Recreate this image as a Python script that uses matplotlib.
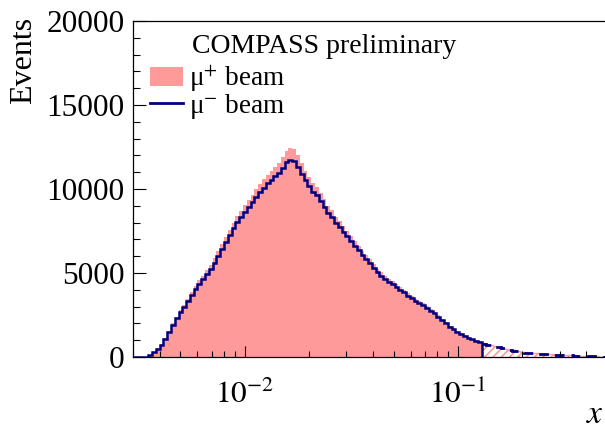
import numpy as np
import matplotlib
matplotlib.use('Agg')
import matplotlib.pyplot as plt
from matplotlib.patches import Patch
from matplotlib.lines import Line2D

plt.rcParams['font.family'] = ['Liberation Serif', 'DejaVu Serif']
plt.rcParams['mathtext.fontset'] = 'stix'
plt.rcParams['hatch.linewidth'] = 1.2

# histogram binning (log-uniform in x), last 33 bins are the "tail" (hatched / dashed)
x_lo, x_hi = 0.003, 0.5
n_bins = 125
n_main = 92

# mu- beam counts per bin
mu_minus = [0, 0, 0, 10, 100, 290, 480, 720, 1070, 1480,
            1930, 2300, 2660, 2980, 3320, 3700, 4050, 4370, 4650, 4940,
            5260, 5620, 6030, 6440, 6840, 7250, 7650, 8030, 8320, 8620,
            8910, 9220, 9550, 9810, 10080, 10340, 10550, 10750, 10960, 11250,
            11580, 11700, 11650, 11300, 10900, 10520, 10170, 9830, 9640, 9300,
            8950, 8600, 8340, 8000, 7750, 7470, 7190, 6900, 6620, 6340,
            6090, 5840, 5600, 5300, 5060, 4850, 4660, 4490, 4340, 4180,
            4010, 3860, 3660, 3500, 3360, 3220, 3080, 2910, 2760, 2600,
            2410, 2210, 2000, 1780, 1650, 1510, 1380, 1270, 1150, 1060,
            980, 900,
            790, 740, 690, 620, 570, 510, 460, 410, 370, 330,
            300, 260, 235, 220, 200, 185, 170, 160, 150, 140,
            125, 115, 105, 95, 85, 75, 68, 60, 50, 40,
            30, 20, 10]

# mu+ beam counts per bin
mu_plus = [0, 0, 0, 20, 120, 320, 520, 770, 1120, 1560,
           2020, 2400, 2780, 3110, 3460, 3860, 4220, 4560, 4850, 5160,
           5490, 5870, 6290, 6720, 7140, 7570, 7990, 8390, 8700, 9020,
           9330, 9660, 10010, 10290, 10580, 10860, 11090, 11310, 11560, 11900,
           12280, 12420, 12380, 12000, 11520, 11080, 10700, 10330, 10120, 9760,
           9390, 9010, 8730, 8360, 8100, 7800, 7500, 7190, 6890, 6600,
           6330, 6070, 5820, 5510, 5260, 5040, 4840, 4660, 4500, 4330,
           4160, 4000, 3790, 3620, 3480, 3330, 3190, 3010, 2850, 2690,
           2490, 2280, 2070, 1840, 1700, 1560, 1420, 1310, 1190, 1090,
           1010, 930,
           830, 780, 720, 650, 600, 530, 480, 430, 390, 350,
           310, 270, 245, 230, 210, 195, 180, 165, 155, 145,
           130, 120, 110, 100, 90, 80, 70, 62, 52, 42,
           32, 22, 12]

yticks = [0, 5000, 10000, 15000, 20000]
xticks = [0.01, 0.1]
xticklabels = [r'$10^{-2}$', r'$10^{-1}$']

pink = '#ff9a9a'
navy = '#000080'

edges = np.logspace(np.log10(x_lo), np.log10(x_hi), n_bins + 1)
mu_minus = np.array(mu_minus, dtype=float)
mu_plus = np.array(mu_plus, dtype=float)

fig = plt.figure(figsize=(6.05, 4.29), dpi=100)
ax = fig.add_axes([133/605, 1-357/429, 474/605, 336/429])

# mu+ : filled for main range, hatched in tail
ax.stairs(mu_plus[:n_main], edges[:n_main+1], fill=True, color=pink, linewidth=0)
ax.stairs(mu_plus[n_main:], edges[n_main:], fill=True, facecolor='none',
          edgecolor=pink, hatch='////', linewidth=0)
ax.stairs(mu_plus[n_main:], edges[n_main:], color=pink, linewidth=1, baseline=None)

# mu- : solid line for main range, dashed in tail
ax.stairs(mu_minus[:n_main], edges[:n_main+1], color=navy, linewidth=1.8)
ax.stairs(mu_minus[n_main:], edges[n_main:], color=navy, linewidth=2.0,
          linestyle=(0, (3.5, 2.5)), baseline=None)

ax.set_xscale('log')
ax.set_xlim(x_lo, x_hi)
ax.set_ylim(0, 20000)
ax.set_yticks(yticks)
ax.yaxis.set_minor_locator(matplotlib.ticker.MultipleLocator(1000))
ax.set_xticks(xticks)
ax.set_xticklabels(xticklabels)
ax.xaxis.set_minor_locator(matplotlib.ticker.LogLocator(base=10, subs=np.arange(2, 10)))
ax.xaxis.set_minor_formatter(matplotlib.ticker.NullFormatter())

ax.tick_params(axis='y', which='major', direction='in', length=9.5, width=0.8,
               labelsize=22.5, pad=6)
ax.tick_params(axis='y', which='minor', direction='in', length=5, width=0.8)
ax.tick_params(axis='x', which='major', direction='in', length=8, width=0.8,
               labelsize=22.5, pad=17)
ax.tick_params(axis='x', which='minor', direction='in', length=4, width=0.8)
for s in ax.spines.values():
    s.set_linewidth(0.9)

fig.text(24/605, 1-17/429, 'Events', rotation=90, ha='center', va='top', fontsize=23)
fig.text(595/605, 1-423/429, r'$x$', ha='center', va='baseline', fontsize=24)

fig.text(192/605, 1-53/429, 'COMPASS preliminary', ha='left', va='baseline', fontsize=20)

handles = [Patch(facecolor=pink, edgecolor='none'),
           Line2D([0], [0], color=navy, linewidth=2)]
labels = ['μ$^{+}$ beam', 'μ$^{-}$ beam']
leg = ax.legend(handles, labels, loc='upper left', bbox_to_anchor=(150/605, 1-63/429),
                bbox_transform=fig.transFigure, frameon=False, fontsize=19.5,
                handlelength=1.2, handleheight=0.75, handletextpad=0.25,
                labelspacing=-0.1, borderpad=0, borderaxespad=0)

fig.savefig('out.png', dpi=100)
